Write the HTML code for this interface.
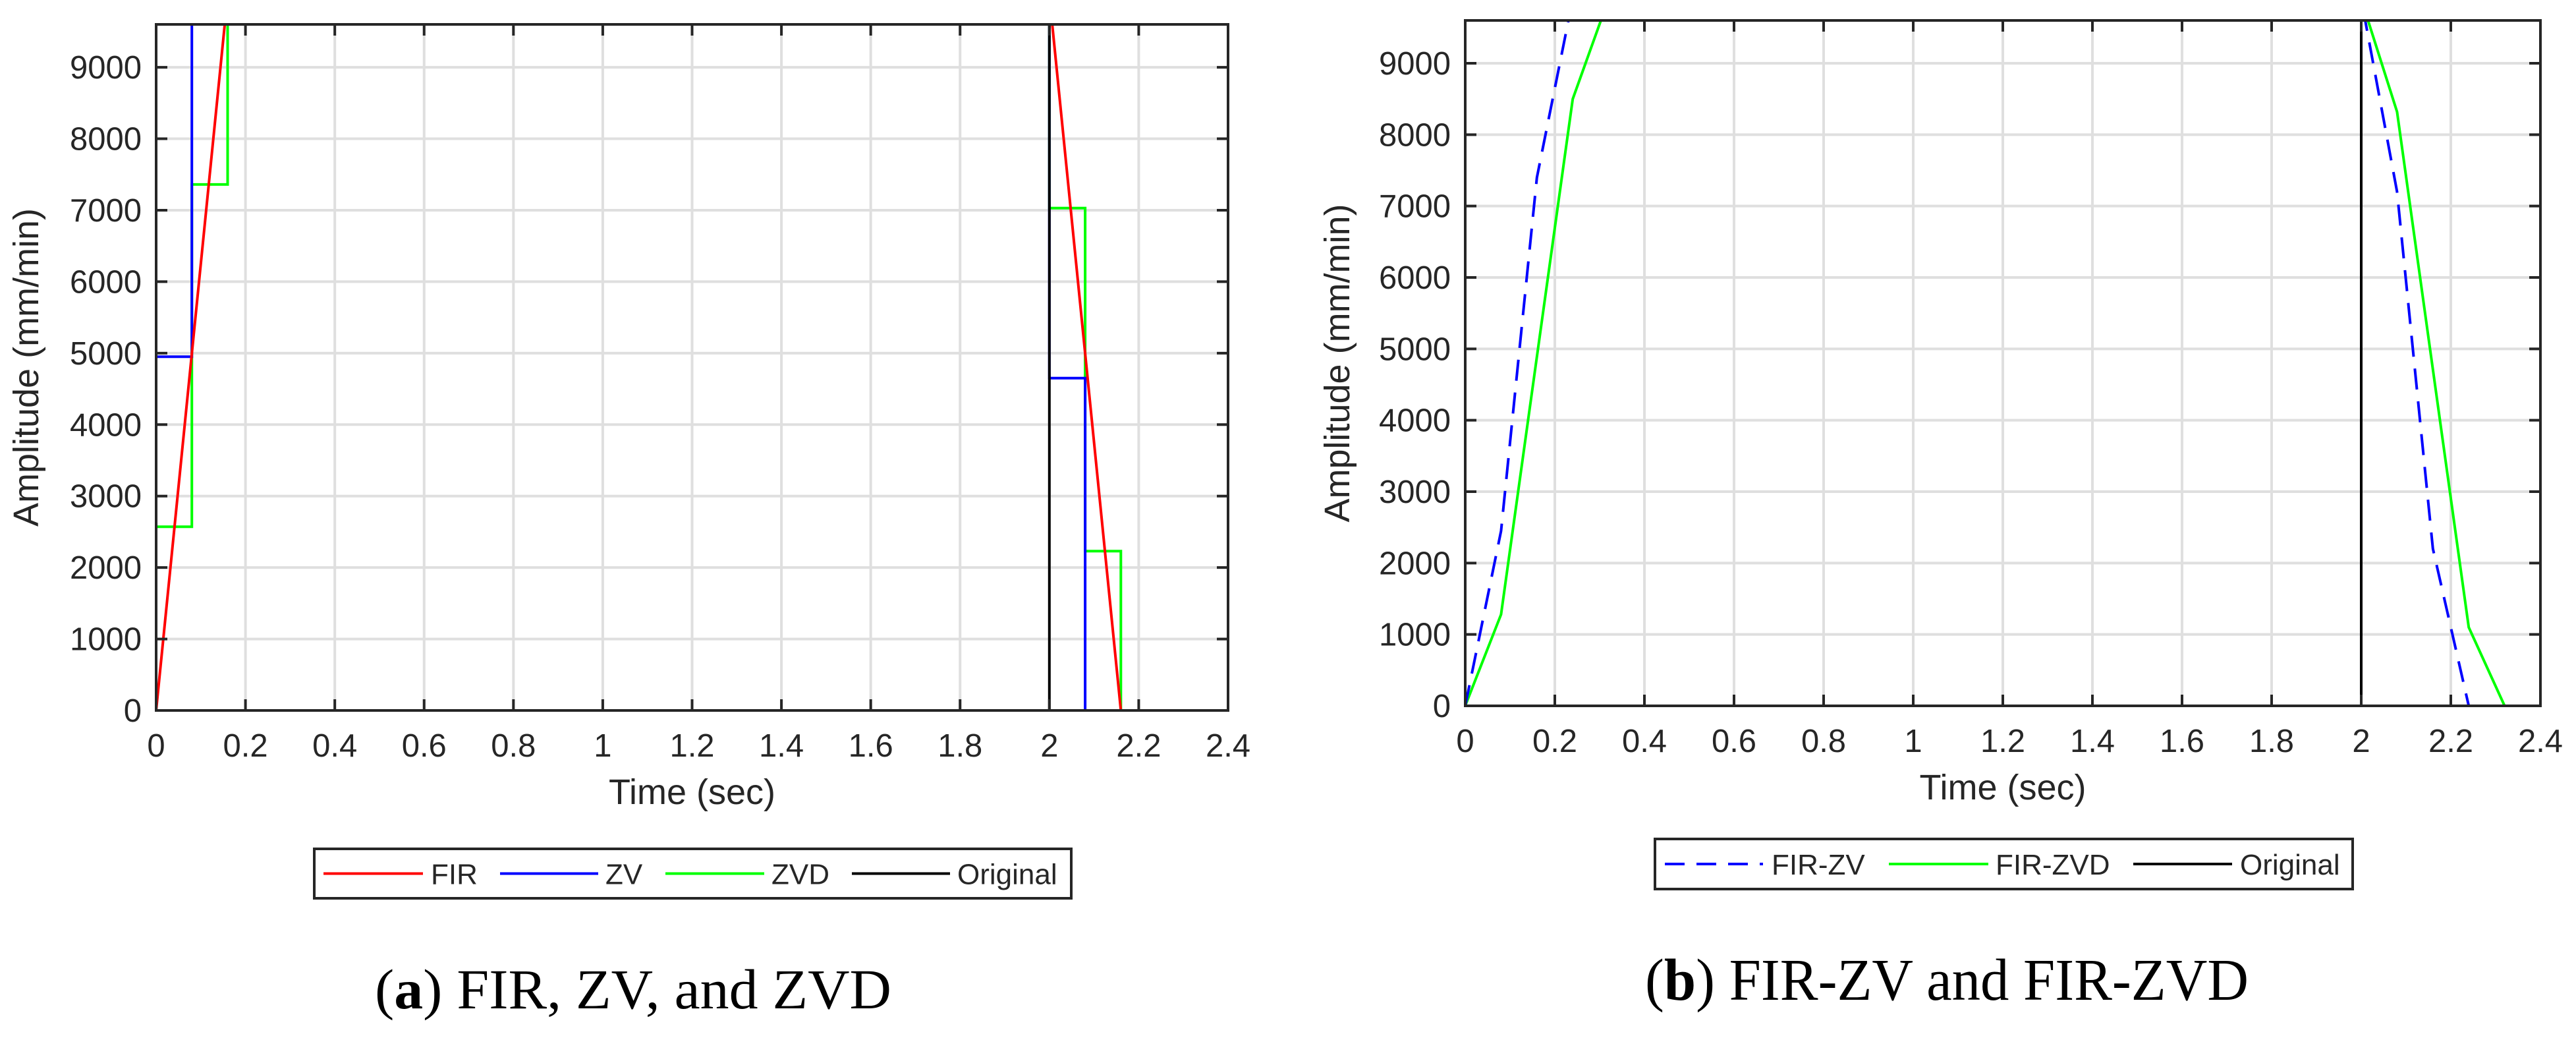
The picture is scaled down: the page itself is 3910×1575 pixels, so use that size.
<!DOCTYPE html>
<html><head><meta charset="utf-8"><style>
html,body{margin:0;padding:0;background:#fff;}
svg{display:block;}
text{font-family:"Liberation Sans",sans-serif;fill:#262626;}
.cap{font-family:"Liberation Serif",serif;fill:#000;}
</style></head><body>
<svg id="fig" width="3910" height="1575" viewBox="0 0 3910 1575" xmlns="http://www.w3.org/2000/svg">
<g id="pa"></g>
<g id="pb"></g>
<text class="cap" x="569" y="1530" font-size="86" textLength="784" lengthAdjust="spacingAndGlyphs">(<tspan font-weight="bold">a</tspan>) FIR, ZV, and ZVD</text>
<text class="cap" x="2497" y="1517" font-size="90" textLength="916" lengthAdjust="spacingAndGlyphs">(<tspan font-weight="bold">b</tspan>) FIR-ZV and FIR-ZVD</text>
</svg>
<script>
// shared axis data
const xTicks = [0,0.2,0.4,0.6,0.8,1,1.2,1.4,1.6,1.8,2,2.2,2.4];
const xTickLabels = ["0","0.2","0.4","0.6","0.8","1","1.2","1.4","1.6","1.8","2","2.2","2.4"];
const yTicks = [0,1000,2000,3000,4000,5000,6000,7000,8000,9000];
const yTickLabels = ["0","1000","2000","3000","4000","5000","6000","7000","8000","9000"];
const xMax = 2.4, yMax = 9600;

// panel a series
const firT = [0,0.16,2,2.16,2.4];
const firV = [0,10000,10000,0,0];
const zvT = [0,0,0.08,0.08,2,2,2.08,2.08,2.4];
const zvV = [0,4950,4950,10000,10000,4650,4650,0,0];
const zvdT = [0,0.08,0.08,0.16,0.16,2,2,2.08,2.08,2.16,2.16,2.4];
const zvdV = [2570,2570,7360,7360,10000,10000,7030,7030,2230,2230,0,0];
const origT = [0,0,2,2,2.4];
const origV = [0,10000,10000,0,0];

// panel b series
const firZvT = [0,0.08,0.16,0.24,2,2.08,2.16,2.24];
const firZvV = [0,2450,7400,9900,9900,7200,2200,0];
const firZvdT = [0,0.08,0.24,0.32,2,2.08,2.24,2.32];
const firZvdV = [0,1280,8500,9900,9900,8320,1100,0];

const NS = "http://www.w3.org/2000/svg";
function mk(parent, tag, attrs){
  const e = document.createElementNS(NS, tag);
  for (const k in attrs) e.setAttribute(k, attrs[k]);
  parent.appendChild(e);
  return e;
}

function panel(g, L, R, T, B, id, series, legend, ylabX){
  const sx = v => L + (R-L)*v/xMax;
  const sy = v => B - (B-T)*v/yMax;
  // grid
  xTicks.forEach(t=>{
    const l = mk(g,'line',{x1:sx(t),x2:sx(t),y1:T,y2:B,stroke:'#dfdfdf','stroke-width':4});
    
    
  });
  yTicks.forEach(t=>{
    const l = mk(g,'line',{x1:L,x2:R,y1:sy(t),y2:sy(t),stroke:'#dfdfdf','stroke-width':4});
    
    
  });
  // series
  const cp = mk(g,'clipPath',{id:'clip'+id});
  mk(cp,'rect',{x:L,y:T,width:R-L,height:B-T});
  series.forEach(s=>{
    const d = s.t.map((t,i)=>(i?'L':'M')+sx(t).toFixed(1)+' '+sy(s.v[i]).toFixed(1)).join(' ');
    const p = mk(g,'path',{d:d,fill:'none',stroke:s.c,'stroke-width':4,'clip-path':'url(#clip'+id+')'});
    if (s.dash) p.setAttribute('stroke-dasharray', s.dash);
    
    
  });
  // axes box
  const box = mk(g,'rect',{x:L,y:T,width:R-L,height:B-T,fill:'none',stroke:'#262626','stroke-width':4});
  
  
  // ticks
  xTicks.forEach((t,i)=>{
    mk(g,'line',{x1:sx(t),x2:sx(t),y1:B,y2:B-17,stroke:'#262626','stroke-width':4});
    mk(g,'line',{x1:sx(t),x2:sx(t),y1:T,y2:T+17,stroke:'#262626','stroke-width':4});
    const tx = mk(g,'text',{x:sx(t),y:B+70,'font-size':49,'text-anchor':'middle'});
    tx.textContent = xTickLabels[i];
    
    
  });
  yTicks.forEach((t,i)=>{
    mk(g,'line',{x1:L,x2:L+17,y1:sy(t),y2:sy(t),stroke:'#262626','stroke-width':4});
    mk(g,'line',{x1:R,x2:R-17,y1:sy(t),y2:sy(t),stroke:'#262626','stroke-width':4});
    const tx = mk(g,'text',{x:L-22,y:sy(t)+17,'font-size':49,'text-anchor':'end'});
    tx.textContent = yTickLabels[i];
    
    
  });
  const xt = mk(g,'text',{x:(L+R)/2,y:B+142,'font-size':54,'text-anchor':'middle'});
  xt.textContent = 'Time (sec)';
  
  
  const yc = (T+B)/2;
  const yt = mk(g,'text',{x:ylabX,y:yc,'font-size':54,'text-anchor':'middle',transform:'rotate(-90 '+ylabX+' '+yc+')'});
  yt.textContent = 'Amplitude (mm/min)';
  
  
  // legend
  const lg = mk(g,'g',{});
  
  
  mk(lg,'rect',{x:legend.x1,y:legend.y1,width:legend.x2-legend.x1,height:legend.y2-legend.y1,fill:'#fff',stroke:'#262626','stroke-width':4});
  const cy = (legend.y1+legend.y2)/2;
  legend.items.forEach(it=>{
    const e = mk(lg,'g',{});
    
    
    const ln = mk(e,'line',{x1:it.l1,x2:it.l2,y1:cy,y2:cy,stroke:it.c,'stroke-width':4});
    if (it.dash) ln.setAttribute('stroke-dasharray', it.dash);
    const tx = mk(e,'text',{x:it.tx,y:cy+16,'font-size':44,fill:'#000'});
    tx.textContent = it.label;
  });
}

panel(document.getElementById('pa'), 237, 1864, 37, 1078, 'a', [
  {t:zvdT, v:zvdV, c:'#00ff00', name:'zvd-line'},
  {t:zvT, v:zvV, c:'#0000ff', name:'zv-line'},
  {t:origT, v:origV, c:'#000000', name:'original-line'},
  {t:firT, v:firV, c:'#ff0000', name:'fir-line'}
], {x1:477,x2:1626,y1:1288,y2:1363,items:[
  {l1:491,l2:642,tx:654,c:'#ff0000',label:'FIR'},
  {l1:759,l2:908,tx:919,c:'#0000ff',label:'ZV'},
  {l1:1010,l2:1160,tx:1171,c:'#00ff00',label:'ZVD'},
  {l1:1293,l2:1442,tx:1453,c:'#000000',label:'Original'}
]}, 58);

panel(document.getElementById('pb'), 2224, 3856, 31, 1071, 'b', [
  {t:origT, v:origV, c:'#000000', name:'original-line'},
  {t:firZvdT, v:firZvdV, c:'#00ff00', name:'fir-zvd-line'},
  {t:firZvT, v:firZvV, c:'#0000ff', dash:'32 18', name:'fir-zv-line'}
], {x1:2512,x2:3571,y1:1273,y2:1349,items:[
  {l1:2527,l2:2676,tx:2689,c:'#0000ff',dash:'30 18',label:'FIR-ZV'},
  {l1:2867,l2:3018,tx:3029,c:'#00ff00',label:'FIR-ZVD'},
  {l1:3238,l2:3388,tx:3400,c:'#000000',label:'Original'}
]}, 2048);
</script>
</body></html>
